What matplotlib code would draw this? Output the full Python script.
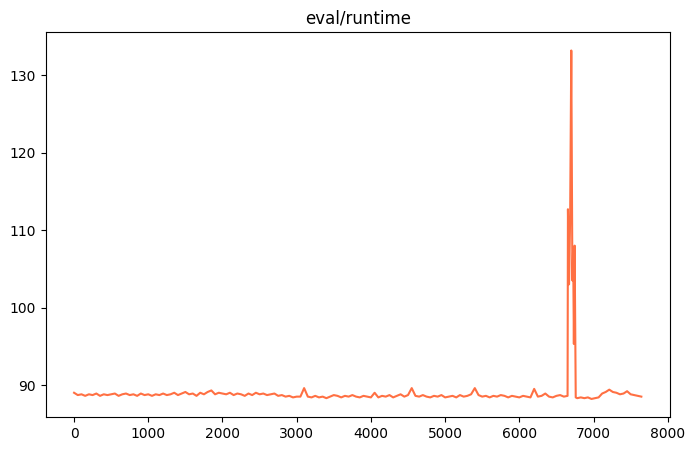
import numpy as np
import matplotlib
matplotlib.use("Agg")
import matplotlib.pyplot as plt

# eval/runtime, logged every 50 steps before and after the spike
runtime_a = [
    89.0, 88.7, 88.8, 88.6, 88.8, 88.7, 88.9, 88.6, 88.8, 88.7, 88.8,
    88.9, 88.6, 88.8, 88.9, 88.7, 88.8, 88.6, 88.9, 88.7, 88.8,
    88.6, 88.8, 88.7, 88.9, 88.7, 88.8, 89.0, 88.7, 88.9, 89.1,
    88.8, 88.9, 88.6, 89.0, 88.8, 89.1, 89.3, 88.8, 89.0, 88.9,
    88.8, 89.0, 88.7, 88.9, 88.8, 88.6, 88.9, 88.7, 89.0, 88.8,
    88.9, 88.7, 88.8, 88.9, 88.6, 88.7, 88.5, 88.6, 88.4, 88.5,
    88.5, 89.6, 88.5, 88.4, 88.6, 88.4, 88.5, 88.3, 88.5, 88.7,
    88.6, 88.4, 88.6, 88.5, 88.7, 88.5, 88.4, 88.6, 88.5, 88.4,
    89.0, 88.4, 88.6, 88.5, 88.7, 88.4, 88.6, 88.8, 88.5, 88.7,
    89.6, 88.6, 88.5, 88.7, 88.5, 88.4, 88.6, 88.5, 88.7, 88.4,
    88.5, 88.6, 88.4, 88.7, 88.5, 88.6, 88.8, 89.6, 88.7, 88.5,
    88.6, 88.4, 88.6, 88.5, 88.7, 88.6, 88.4, 88.6, 88.5, 88.4,
    88.6, 88.5, 88.4, 89.5, 88.5, 88.6, 88.9, 88.5, 88.4, 88.6,
    88.7, 88.5, 88.6,
]
spike_steps = [6655, 6670, 6685, 6700, 6715, 6725, 6735, 6745, 6760]
spike_vals = [112.7, 103.0, 112.0, 133.2, 103.5, 107.8, 95.3, 108.0, 88.4]
runtime_b = [
    88.3, 88.4, 88.3, 88.4, 88.2, 88.3, 88.4, 88.9, 89.1, 89.4,
    89.1, 89.0, 88.8, 88.9, 89.2, 88.8, 88.7, 88.6, 88.5,
]

steps = np.concatenate([np.arange(len(runtime_a)) * 50,
                        spike_steps,
                        6780 + np.arange(len(runtime_b)) * 48])
runtime = np.concatenate([runtime_a, spike_vals, runtime_b])

fig = plt.figure(figsize=(6.92, 4.51), dpi=100)
ax = fig.add_axes([45.7 / 692, 33.7 / 451, 624 / 692, 385 / 451])
ax.plot(steps, runtime, color='#ff7043', lw=1.5)
ax.set_ylim(85.83, 135.55)
ax.set_xticks(np.arange(0, 8001, 1000))
ax.set_title('eval/runtime')
fig.savefig('out.png', dpi=100)
